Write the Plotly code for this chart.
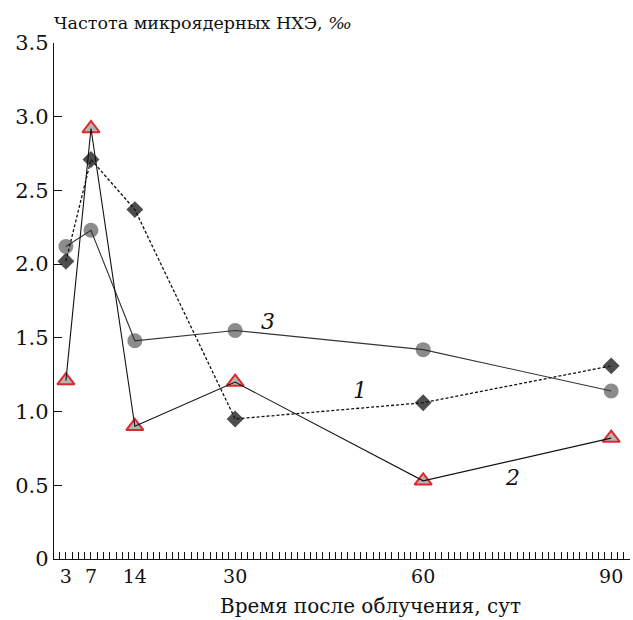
import plotly.graph_objects as go

days = [3, 7, 14, 30, 60, 90]
series1 = [2.02, 2.71, 2.37, 0.95, 1.06, 1.31]   # diamonds, dashed
series2 = [1.21, 2.92, 0.90, 1.20, 0.53, 0.82]   # triangles, solid
series3 = [2.12, 2.23, 1.48, 1.55, 1.42, 1.14]   # circles, solid
x_ticks = [3, 7, 14, 30, 60, 90]
y_ticks = [0, 0.5, 1.0, 1.5, 2.0, 2.5, 3.0, 3.5]
y_labels = ["0", "0.5", "1.0", "1.5", "2.0", "2.5", "3.0", "3.5"]
curve_labels = ["1", "2", "3"]
curve_label_pos = [(49.9, 1.14), (74.2, 0.55), (35.3, 1.61)]

FONT = "DejaVu Serif"

fig = go.Figure()
# markers first (lines are drawn over them in the reference)
fig.add_trace(go.Scatter(x=days, y=series3, mode="markers",
                         marker=dict(symbol="circle", size=15, color="#8c8c8c"), showlegend=False))
fig.add_trace(go.Scatter(x=days, y=series1, mode="markers",
                         marker=dict(symbol="diamond", size=13, color="#4d4d4d"), showlegend=False))
fig.add_trace(go.Scatter(x=days, y=series2, mode="markers",
                         marker=dict(symbol="triangle-up", size=15, color="#b4b4b4",
                                     line=dict(color="#e3262b", width=2)), showlegend=False))
# lines
fig.add_trace(go.Scatter(x=days, y=series3, mode="lines",
                         line=dict(color="#333333", width=1.1), showlegend=False))
fig.add_trace(go.Scatter(x=days, y=series1, mode="lines",
                         line=dict(color="#111111", width=1.3, dash="3px,2px"), showlegend=False))
fig.add_trace(go.Scatter(x=days, y=series2, mode="lines",
                         line=dict(color="#111111", width=1.1), showlegend=False))

for lab, (lx, ly) in zip(curve_labels, curve_label_pos):
    fig.add_annotation(x=lx, y=ly, text="<i>" + lab + "</i>", showarrow=False,
                       font=dict(family=FONT, size=22, color="#111111"))

fig.add_annotation(xref="paper", yref="paper", x=0, y=1, xanchor="left", yanchor="bottom",
                   xshift=-2, yshift=8,
                   text="Частота микроядерных НХЭ, <i>‰</i>", showarrow=False,
                   font=dict(family=FONT, size=17.5, color="#111111"))
fig.add_annotation(xref="paper", yref="paper", x=0.549, y=0, xanchor="center", yanchor="top",
                   yshift=-33,
                   text="Время после облучения, сут", showarrow=False,
                   font=dict(family=FONT, size=20, color="#111111"))

fig.update_xaxes(range=[1.1, 93], tickmode="array", tickvals=x_ticks,
                 ticktext=[str(v) for v in x_ticks],
                 ticks="inside", ticklen=7, tickwidth=1, tickcolor="#111111",
                 minor=dict(ticks="inside", dtick=1, tick0=0, ticklen=7, tickwidth=1, tickcolor="#111111"),
                 showline=True, linecolor="#111111", linewidth=1.3,
                 showgrid=False, zeroline=False,
                 tickfont=dict(family=FONT, size=19, color="#111111"))
fig.update_yaxes(range=[0, 3.5], tickmode="array", tickvals=y_ticks, ticktext=y_labels,
                 ticks="inside", ticklen=8, tickwidth=1.2, tickcolor="#111111",
                 showline=True, linecolor="#111111", linewidth=1.3,
                 showgrid=False, zeroline=False,
                 tickfont=dict(family=FONT, size=21, color="#111111"))

fig.update_layout(width=633, height=620, margin=dict(l=54, r=3, t=43, b=61),
                  font=dict(family=FONT),
                  plot_bgcolor="white", paper_bgcolor="white")

fig.write_html("out.html")
